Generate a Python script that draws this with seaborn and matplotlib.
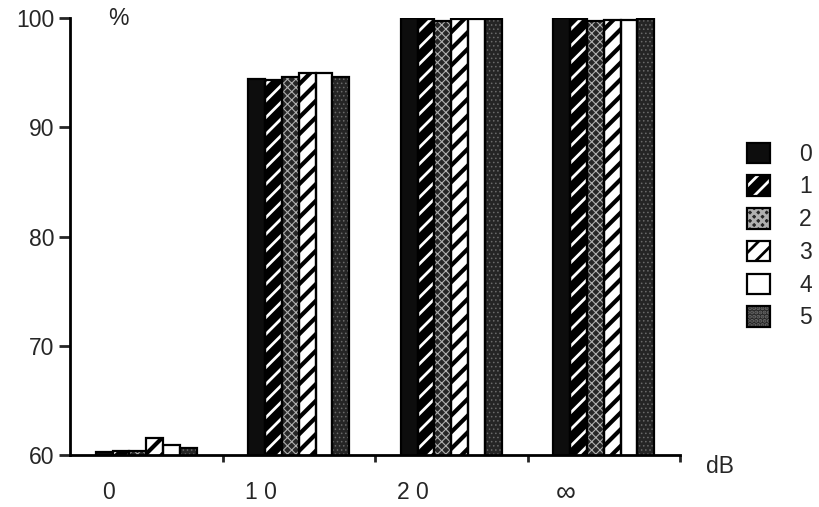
import matplotlib
matplotlib.use("Agg")
import matplotlib.pyplot as plt
import seaborn as sns
import pandas as pd
import numpy as np
from matplotlib.patches import Rectangle, Patch
from matplotlib.legend_handler import HandlerTuple

categories = ['0', '1 0', '2 0', '∞']
series = ['0', '1', '2', '3', '4', '5']
s0 = [60.3, 94.4, 100.0, 100.0]
s1 = [60.4, 94.3, 99.9, 99.9]
s2 = [60.4, 94.6, 99.7, 99.7]
s3 = [61.6, 95.0, 99.9, 99.8]
s4 = [60.9, 95.0, 99.9, 99.8]
s5 = [60.6, 94.6, 99.9, 99.9]
yticks = [60, 70, 80, 90, 100]

rows = []
for name, vals in zip(series, [s0, s1, s2, s3, s4, s5]):
    for c, v in zip(categories, vals):
        rows.append({'cat': c, 'series': name, 'val': v})
df = pd.DataFrame(rows)

sns.set_style('white')
plt.rcParams['font.family'] = ['Liberation Sans', 'DejaVu Sans']
plt.rcParams['hatch.linewidth'] = 2.0
FS = 16.5

styles = [
    dict(fc='#0d0d0d', hatch=None, hc='#0d0d0d', hlw=1.0),
    dict(fc='#000000', hatch='//', hc='white', hlw=2.0),
    dict(fc='#262626', hatch='xxxx', hc='#b0b0b0', hlw=0.8),
    dict(fc='white', hatch='//', hc='black', hlw=3.0),
    dict(fc='white', hatch=None, hc='white', hlw=1.0),
    dict(fc='#252525', hatch='....', hc='#6a6a6a', hlw=0.6),
]

fig = plt.figure(figsize=(8.2, 5.07), dpi=100)
ax = fig.add_axes([70/820, 52/507, 610/820, 437/507])

sns.barplot(data=df, x='cat', y='val', hue='series', order=categories,
            hue_order=series, width=0.66, dodge=True, legend=False,
            palette=['#000000'] * 6, ax=ax, errorbar=None)


def style_patch(p, st):
    p.set_facecolor(st['fc'])
    p.set_edgecolor(st['hc'])
    p.set_linewidth(0)
    if st['hatch']:
        p.set_hatch(st['hatch'])
        try:
            p.set_hatch_linewidth(st['hlw'])
        except Exception:
            pass


for cont, st in zip(ax.containers, styles):
    for p in cont.patches:
        style_patch(p, st)
        ax.add_patch(Rectangle(p.get_xy(), p.get_width(), p.get_height(),
                               fill=False, edgecolor='black', linewidth=1.6,
                               zorder=p.get_zorder() + 0.1))

ax.set_ylim(60, 100)
ax.set_xlim(-0.5, 3.5)
ax.set_yticks(yticks)
ax.set_yticklabels([str(t) for t in yticks], fontsize=FS)
ax.tick_params(axis='y', direction='out', length=8, width=2, pad=3, left=True)

ax.set_xticks([i - 0.25 for i in range(len(categories))])
ax.set_xticklabels(categories, fontsize=FS)
ax.get_xticklabels()[-1].set_fontsize(20)
ax.tick_params(axis='x', which='major', length=0, pad=19)
ax.set_xticks([0.5, 1.5, 2.5, 3.5], minor=True)
ax.tick_params(axis='x', which='minor', direction='out', length=5, width=2, bottom=True)

for s in ['top', 'right']:
    ax.spines[s].set_visible(False)
for s in ['left', 'bottom']:
    ax.spines[s].set_linewidth(2)
    ax.spines[s].set_color('black')
ax.set_xlabel('')
ax.set_ylabel('')

ax.text(0.079, 1.0, '%', transform=ax.transAxes, fontsize=FS, ha='center', va='center')
ax.text(1.066, -0.027, 'dB', transform=ax.transAxes, fontsize=FS, ha='center', va='center')

handles = []
for st in styles:
    h1 = Patch(facecolor=st['fc'], edgecolor=st['hc'], hatch=st['hatch'], linewidth=0)
    h2 = Patch(facecolor='none', edgecolor='black', linewidth=1.6)
    handles.append((h1, h2))
fig.legend(handles, series, handler_map={tuple: HandlerTuple(ndivide=1)},
           loc='center left', bbox_to_anchor=(726/820, 1 - 236/507),
           frameon=False, fontsize=FS, handlelength=1.0, handleheight=1.0,
           labelspacing=0.42, handletextpad=1.3)

fig.savefig('out.png', dpi=100)
